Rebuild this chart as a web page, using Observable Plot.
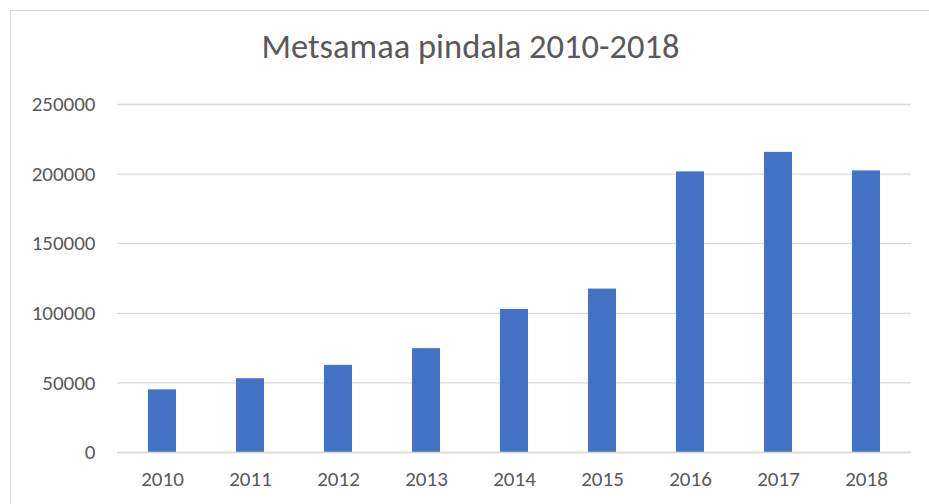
<!DOCTYPE html>
<html><head><meta charset="utf-8">
<script src="https://cdn.jsdelivr.net/npm/d3@7"></script>
<script src="https://cdn.jsdelivr.net/npm/@observablehq/plot@0.6"></script>
<style>
html,body{margin:0;padding:0;background:#fff;overflow:hidden}
#wrap{position:relative;width:929px;height:504px;overflow:hidden}
#border{position:absolute;left:10px;top:10px;width:940px;height:520px;border:1.5px solid #d9d9d9;box-sizing:border-box}
#chart{position:absolute;left:0;top:0}
</style></head><body><div id="wrap"><div id="border"></div><div id="chart"></div></div>
<script>
const title = "Metsamaa pindala 2010-2018";
const years = ["2010","2011","2012","2013","2014","2015","2016","2017","2018"];
const values = [45000, 53000, 62600, 74600, 102800, 117400, 201600, 215600, 202300];
const yTicks = [0, 50000, 100000, 150000, 200000, 250000];
const data = years.map((y, i) => ({year: y, value: values[i]}));
const chart = Plot.plot({
  width: 929, height: 504,
  marginLeft: 117, marginRight: 18, marginTop: 104, marginBottom: 52,
  style: {fontFamily: "Carlito, Calibri, Lato, sans-serif", fontSize: "21px", color: "#595959", background: "transparent", overflow: "visible"},
  x: {domain: years, paddingInner: 0.683, paddingOuter: 0.3415, label: null, tickSize: 0, tickPadding: 19},
  y: {domain: [0, 250000], ticks: yTicks, tickFormat: d => String(d), label: null, tickSize: 0, tickPadding: 22},
  marks: [
    Plot.gridY(yTicks, {stroke: "#d9d9d9", strokeOpacity: 1, strokeWidth: 1.3}),
    Plot.barY(data, {x: "year", y: "value", fill: "#4472c4"}),
    Plot.ruleY([0], {stroke: "#d9d9d9", strokeWidth: 1.5}),
    Plot.text([title], {frameAnchor: "top", dx: -44, dy: -58, lineAnchor: "middle", fontSize: 34.5, fill: "#595959"})
  ]
});
document.getElementById("chart").appendChild(chart);
</script></body></html>
